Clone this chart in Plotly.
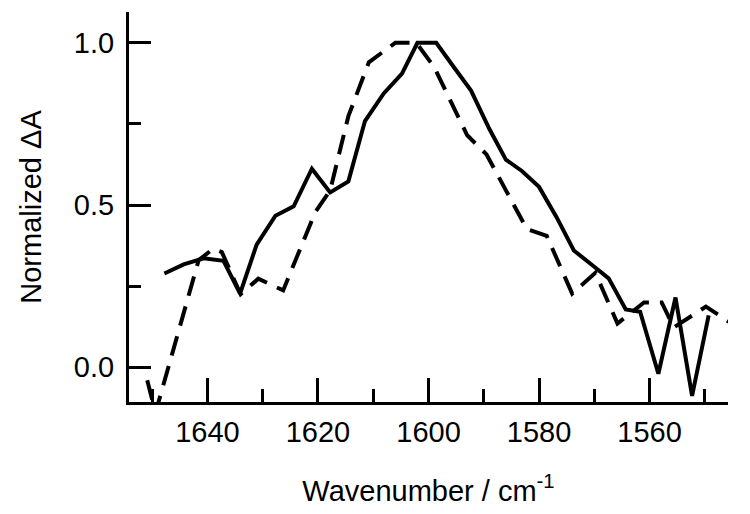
import plotly.graph_objects as go

# Solid trace
wn_solid = [1647.8, 1644.3, 1640.7, 1637.1, 1634.1, 1631.1, 1627.7, 1624.4, 1621.1, 1617.8,
            1614.5, 1611.5, 1608.1, 1604.8, 1602.0, 1598.6, 1595.5, 1592.3, 1589.0, 1586.0,
            1583.1, 1580.0, 1576.8, 1573.7, 1570.0, 1567.4, 1564.3, 1561.7, 1558.4, 1555.3,
            1552.3, 1549.3]
dA_solid = [0.289, 0.317, 0.336, 0.328, 0.227, 0.378, 0.467, 0.496, 0.612, 0.539,
            0.573, 0.759, 0.844, 0.905, 1.0, 1.0, 0.927, 0.853, 0.735, 0.640,
            0.605, 0.556, 0.462, 0.360, 0.31, 0.274, 0.178, 0.171, -0.02, 0.215,
            -0.088, 0.16]

# Dashed trace
wn_dashed = [1650.9, 1649.4, 1641.6, 1639.0, 1637.4, 1634.0, 1630.8, 1626.3, 1620.5, 1617.8,
             1614.5, 1610.8, 1606.0, 1602.2, 1599.0, 1593.0, 1589.5, 1582.2, 1578.6, 1574.0,
             1569.8, 1565.8, 1561.0, 1557.8, 1555.6, 1549.8, 1545.6]
dA_dashed = [-0.04, -0.14, 0.33, 0.365, 0.355, 0.225, 0.273, 0.237, 0.478, 0.545,
             0.774, 0.94, 1.0, 1.0, 0.926, 0.715, 0.656, 0.426, 0.405, 0.227,
             0.291, 0.135, 0.2, 0.2, 0.123, 0.187, 0.14]

x_range = [1654.2, 1545.8]
y_range = [-0.107, 1.095]

font_family = "Arial, Liberation Sans, sans-serif"

fig = go.Figure()
fig.add_trace(go.Scatter(x=wn_solid, y=dA_solid, mode="lines",
                         line=dict(color="black", width=4), showlegend=False))
fig.add_trace(go.Scatter(x=wn_dashed, y=dA_dashed, mode="lines",
                         line=dict(color="black", width=4, dash="20px,11px"), showlegend=False))

fig.update_layout(
    width=750, height=514,
    margin=dict(l=129, r=22, t=12, b=110),
    plot_bgcolor="white", paper_bgcolor="white",
    font=dict(family=font_family, color="black", size=28),
)
fig.update_xaxes(
    range=x_range, tick0=1640, dtick=20,
    showline=True, linecolor="black", linewidth=3, mirror=False,
    showgrid=False, zeroline=False,
    ticks="inside", ticklen=24, tickwidth=3, tickcolor="black",
    minor=dict(dtick=10, tick0=1650, ticks="inside", ticklen=13, tickwidth=3, tickcolor="black"),
    tickfont=dict(size=29),
    ticklabelstandoff=2,
    title=dict(text="Wavenumber / cm<sup>-1</sup>", font=dict(size=29), standoff=34),
)
fig.update_yaxes(
    range=y_range, tick0=0, dtick=0.5, tickformat=".1f",
    showline=True, linecolor="black", linewidth=3, mirror=False,
    showgrid=False, zeroline=False,
    ticks="inside", ticklen=22, tickwidth=3, tickcolor="black",
    minor=dict(dtick=0.25, tick0=0, ticks="inside", ticklen=12, tickwidth=3, tickcolor="black"),
    tickfont=dict(size=29),
    ticklabelstandoff=6,
    title=dict(text="Normalized ΔA", font=dict(size=29), standoff=24),
)

fig.write_html("out.html",
               config={"displayModeBar": False},
               post_script="document.body.style.margin='0px';document.body.style.padding='0px';")
